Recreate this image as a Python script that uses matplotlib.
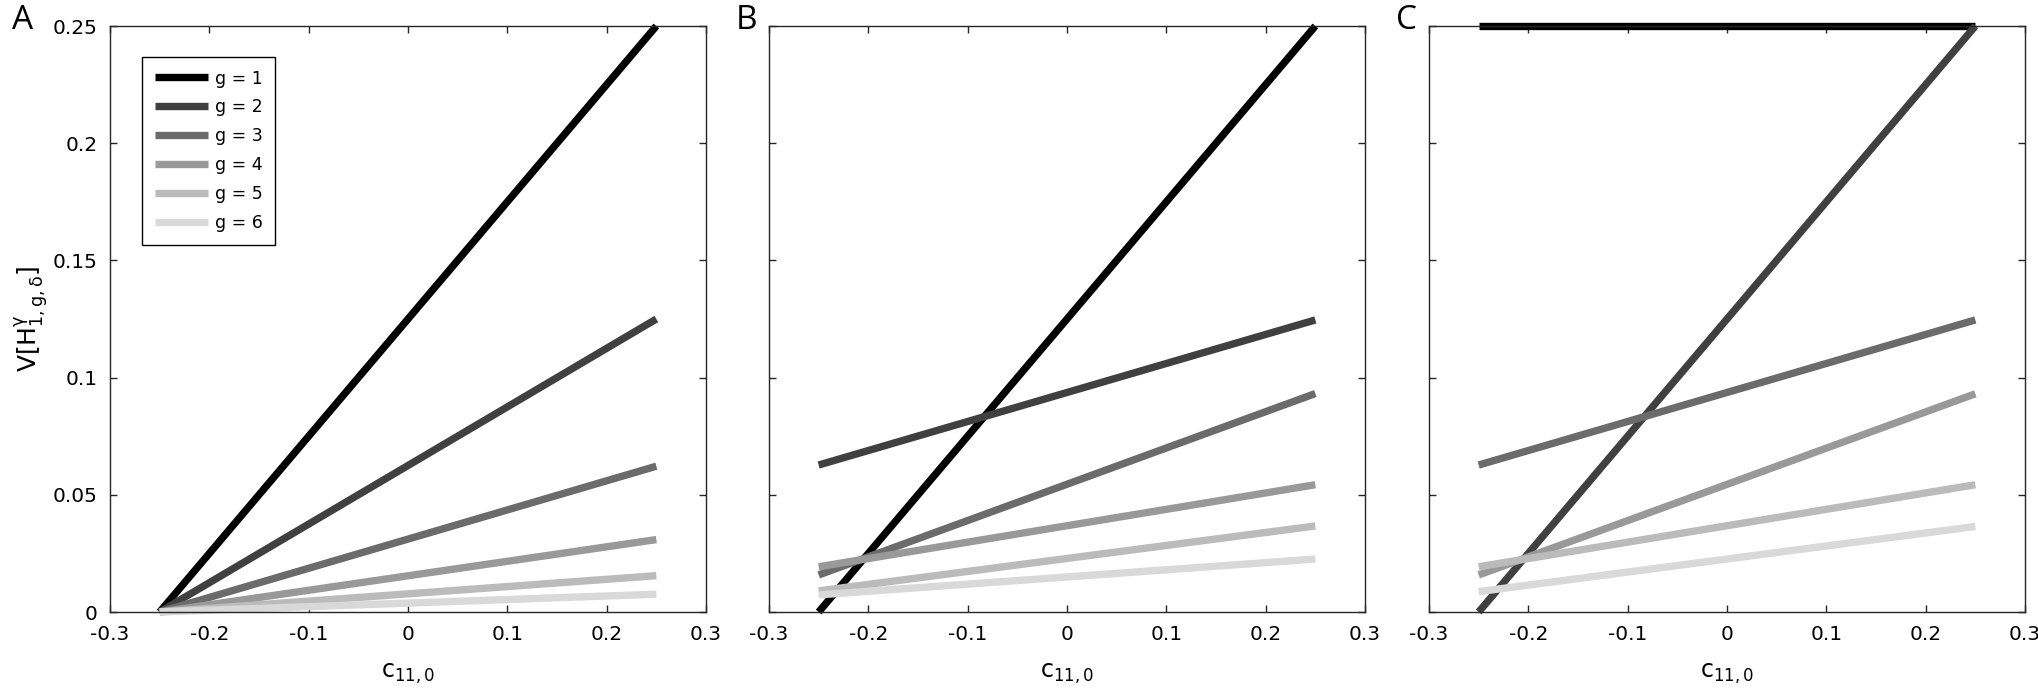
import matplotlib
matplotlib.use("Agg")
import matplotlib.pyplot as plt

plt.rcParams['font.family'] = ['DejaVu Sans']
plt.rcParams['mathtext.default'] = 'regular'
plt.rcParams['axes.unicode_minus'] = False

# ---- data ----
c_range = [-0.25, 0.25]
groups = ['g = 1', 'g = 2', 'g = 3', 'g = 4', 'g = 5', 'g = 6']
grays = ['#000000', '#404040', '#6b6b6b', '#999999', '#bbbbbb', '#d9d9d9']

# endpoint values (at c = -0.25, c = 0.25) for each g
panel_A = [[0.0, 0.25], [0.0, 0.125], [0.0, 0.0622], [0.0, 0.0309],
           [0.0, 0.0155], [0.0, 0.0076]]
panel_B = [[0.0, 0.25], [0.0627, 0.1246], [0.0158, 0.0932], [0.0193, 0.0543],
           [0.0090, 0.0367], [0.0073, 0.0226]]
panel_C = [[0.25, 0.25], [0.0, 0.25], [0.0627, 0.1246], [0.0158, 0.0931],
           [0.0193, 0.0543], [0.0087, 0.0365]]

xticks = [-0.3, -0.2, -0.1, 0, 0.1, 0.2, 0.3]
xticklabels = ['-0.3', '-0.2', '-0.1', '0', '0.1', '0.2', '0.3']
yticks = [0, 0.05, 0.1, 0.15, 0.2, 0.25]
yticklabels = ['0', '0.05', '0.1', '0.15', '0.2', '0.25']
panel_letters = ['A', 'B', 'C']

W, H = 2038, 689
fig = plt.figure(figsize=(W / 100, H / 100), dpi=100)

lefts = [110, 769, 1429]
ax_w, ax_top, ax_bot = 596, 26, 612
frame_col = '#262626'

for i, (data, letter) in enumerate(zip([panel_A, panel_B, panel_C], panel_letters)):
    ax = fig.add_axes([lefts[i] / W, (H - ax_bot) / H, ax_w / W, (ax_bot - ax_top) / H])
    for vals, col, lab in zip(data, grays, groups):
        ax.plot(c_range, vals, color=col, lw=5.3, solid_capstyle='butt',
                clip_on=False, label=lab)
    ax.set_xlim(-0.3, 0.3)
    ax.set_ylim(0, 0.25)
    ax.set_xticks(xticks)
    ax.set_xticklabels(xticklabels)
    ax.set_yticks(yticks)
    if i == 0:
        ax.set_yticklabels(yticklabels)
    else:
        ax.set_yticklabels([])
    ax.tick_params(direction='in', length=5, width=1.0, top=True, right=True,
                   labelsize=14.5, color=frame_col, labelcolor='black', pad=9)
    for s in ax.spines.values():
        s.set_color(frame_col)
        s.set_linewidth(1.0)
    ax.set_xlabel(r'c$_{11,0}$', fontsize=17, labelpad=13)
    if i == 0:
        ax.set_ylabel(r'V[H$^{\gamma}_{1,g,\delta}$]', fontsize=18, labelpad=2)
        leg = ax.legend(loc='upper left', bbox_to_anchor=(0.054, 0.947),
                        borderaxespad=0, fontsize=12.5, handlelength=3.05,
                        handletextpad=0.41, labelspacing=0.63, borderpad=0.72,
                        fancybox=False, framealpha=1, edgecolor='black')
        leg.get_frame().set_linewidth(1.0)
    fig.text((lefts[i] - (98 if i == 0 else 33)) / W, 1 - 4 / H, letter,
             fontsize=24, ha='left', va='top', family=['Open Sans', 'DejaVu Sans'])

fig.savefig('out.png', dpi=100)
